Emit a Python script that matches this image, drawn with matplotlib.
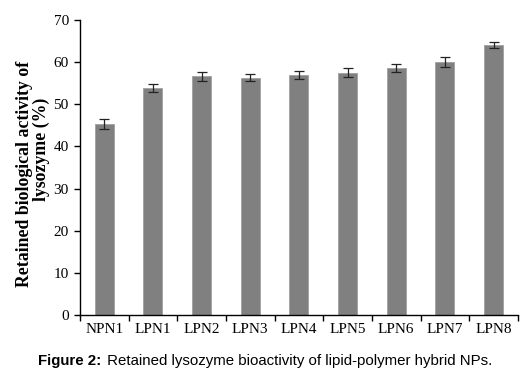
import numpy as np
import matplotlib.pyplot as plt

# data
samples = ['NPN1', 'LPN1', 'LPN2', 'LPN3', 'LPN4', 'LPN5', 'LPN6', 'LPN7', 'LPN8']
activity = [45.3, 53.8, 56.6, 56.3, 56.9, 57.5, 58.6, 60.0, 64.0]
errors = [1.2, 0.9, 1.0, 0.8, 0.9, 1.1, 0.9, 1.1, 0.7]

fig = plt.figure(figsize=(5.29, 3.76), dpi=100)
ax = fig.add_axes([0.151, 0.162, 0.828, 0.785])

x = np.arange(len(samples))
ax.bar(x, activity, width=0.39, color='#808080', edgecolor='#a0a0a0', linewidth=0.6,
       yerr=errors, capsize=3.5, error_kw=dict(ecolor='#222222', elinewidth=0.9, capthick=0.9))

ax.set_xlim(-0.5, len(samples) - 0.5)
ax.set_ylim(0, 70)
ax.set_yticks(np.arange(0, 71, 10))
ax.set_xticks(x)
ax.set_xticklabels(samples)
ax.set_xticks(np.arange(-0.5, len(samples), 1), minor=True)

for s in ['top', 'right']:
    ax.spines[s].set_visible(False)
for s in ['left', 'bottom']:
    ax.spines[s].set_linewidth(1.0)

ax.tick_params(axis='x', which='major', length=0, pad=6)
ax.tick_params(axis='x', which='minor', length=4, direction='out', width=1)
ax.tick_params(axis='y', length=4, direction='out', width=1, pad=4)
for lab in ax.get_xticklabels() + ax.get_yticklabels():
    lab.set_fontfamily('Liberation Serif')
    lab.set_fontsize(11)

# y label drawn as two lines, the second one sits higher than centred in the original
ylab_font = dict(fontfamily='Liberation Serif', fontweight='bold', fontsize=12.8,
                 rotation=90, ha='center', va='center')
fig.text(0.0454, 0.537, 'Retained biological activity of', **ylab_font)
fig.text(0.0785, 0.604, 'lysozyme (%)', **ylab_font)

# caption: bold prefix followed by normal text
cap = fig.text(0.072, 0.04, 'Figure 2:', fontfamily='Liberation Sans', fontweight='bold',
               fontsize=10.8, ha='left', va='center')
fig.canvas.draw()
bb = cap.get_window_extent()
fig.text(bb.x1 + 2, bb.y0 + bb.height / 2,
         ' Retained lysozyme bioactivity of lipid-polymer hybrid NPs.',
         transform=None, fontfamily='Liberation Sans', fontsize=10.8, ha='left', va='center')

fig.savefig('out.png', dpi=100)
